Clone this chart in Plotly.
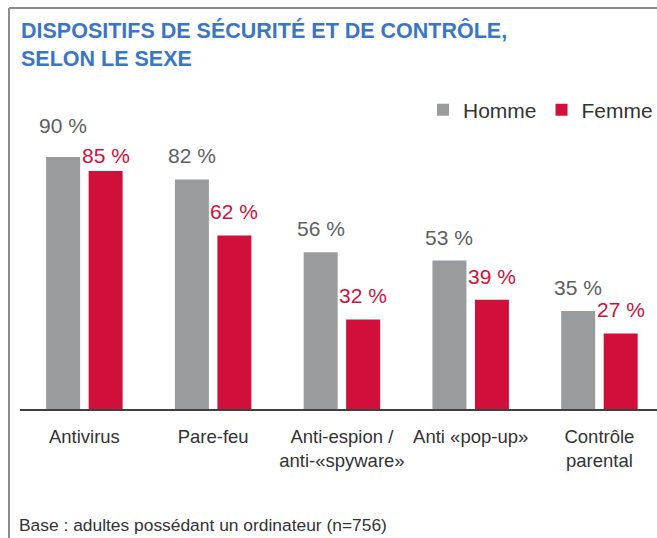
import plotly.graph_objects as go

# ---- data ----
categories = ["Antivirus", "Pare-feu", "Anti-espion /<br>anti-«spyware»",
              "Anti «pop-up»", "Contrôle<br>parental"]
homme = [90, 82, 56, 53, 35]
femme = [85, 62, 32, 39, 27]
series_names = ["Homme", "Femme"]

title_lines = ["DISPOSITIFS DE SÉCURITÉ ET DE CONTRÔLE,", "SELON LE SEXE"]
footnote = "Base : adultes possédant un ordinateur (n=756)"

# ---- style ----
FONT = "Liberation Sans, Arial, Helvetica, sans-serif"
GRAY = "#9A9B9D"
RED = "#D0103A"
GRAY_TXT = "#5E5E5E"
TXT = "#333333"
BLUE = "#3A76C4"
W, H = 657, 538

x_idx = list(range(len(categories)))

fig = go.Figure()
fig.add_trace(go.Bar(name=series_names[0], x=x_idx, y=homme, marker_color=GRAY,
                     marker_line_width=0))
fig.add_trace(go.Bar(name=series_names[1], x=x_idx, y=femme, marker_color=RED,
                     marker_line_width=0))

# plot area geometry (pixels)
left_px, right_px = 20, 657
top_px, bottom_px = 129, 409
y_max = 100
bargap = 0.34
bargroupgap = 0.2
px_per_val = (bottom_px - top_px) / y_max
slot = (1 - bargap) / 2  # in x units
offset = slot / 2

# value labels (with simple collision avoidance)
base_shift = 10
annotations = []
for i in x_idx:
    h, f = homme[i], femme[i]
    d = abs(h - f) * px_per_val
    sh_h = sh_f = base_shift
    if d < 22:
        push = (30 - d) / 2
        if h >= f:
            sh_h += push; sh_f -= push
        else:
            sh_f += push; sh_h -= push
    annotations.append(dict(x=i - offset, y=h, xref="x", yref="y", text=f"{h} %",
                            showarrow=False, yanchor="bottom", yshift=sh_h,
                            font=dict(family=FONT, size=21, color=GRAY_TXT)))
    annotations.append(dict(x=i + offset, y=f, xref="x", yref="y", text=f"{f} %",
                            showarrow=False, yanchor="bottom", yshift=sh_f,
                            font=dict(family=FONT, size=21, color=RED)))

# footnote
annotations.append(dict(x=17 / W, y=1 - 525 / H, xref="paper", yref="paper",
                        xanchor="left", yanchor="middle", showarrow=False,
                        text=footnote, font=dict(family=FONT, size=17.4, color=TXT)))

fig.update_layout(
    width=W, height=H,
    margin=dict(l=0, r=0, t=0, b=0, autoexpand=False),
    paper_bgcolor="white", plot_bgcolor="white",
    barmode="group", bargap=bargap, bargroupgap=bargroupgap,
    title=dict(text="<br>".join(title_lines), x=21 / W, xanchor="left",
               y=1 - 38 / H, yanchor="top",
               font=dict(family=FONT, size=21.5, color=BLUE, weight="bold")),
    xaxis=dict(domain=[left_px / W, 1], range=[-0.5, 4.447],
               tickmode="array", tickvals=x_idx, ticktext=categories,
               tickangle=0, ticklabelstandoff=10,
               showline=True, linecolor="#404040", linewidth=2,
               ticks="", showgrid=False, zeroline=False,
               tickfont=dict(family=FONT, size=18.5, color=TXT)),
    yaxis=dict(domain=[1 - bottom_px / H, 1 - top_px / H], range=[0, y_max],
               visible=False),
    legend=dict(orientation="h", x=423 / W, y=1 - 110 / H, xanchor="left",
                yanchor="middle", font=dict(family=FONT, size=21, color=TXT),
                bgcolor="rgba(0,0,0,0)", traceorder="normal"),
    annotations=annotations,
    shapes=[
        dict(type="line", xref="paper", yref="paper", x0=9 / W, x1=1,
             y0=1 - 8 / H, y1=1 - 8 / H, line=dict(color="#8C8C8C", width=2),
             layer="above"),
        dict(type="line", xref="paper", yref="paper", x0=9 / W, x1=9 / W,
             y0=0, y1=1 - 8 / H, line=dict(color="#8C8C8C", width=2),
             layer="above"),
    ],
)

fig.write_html(
    "out.html",
    config={"displayModeBar": False},
    post_script=("document.documentElement.style.margin='0';"
                 "document.body.style.margin='0';"
                 "document.documentElement.style.overflow='hidden';"
                 "document.body.style.overflow='hidden';"
                 "window.scrollTo(0,0);"),
)
